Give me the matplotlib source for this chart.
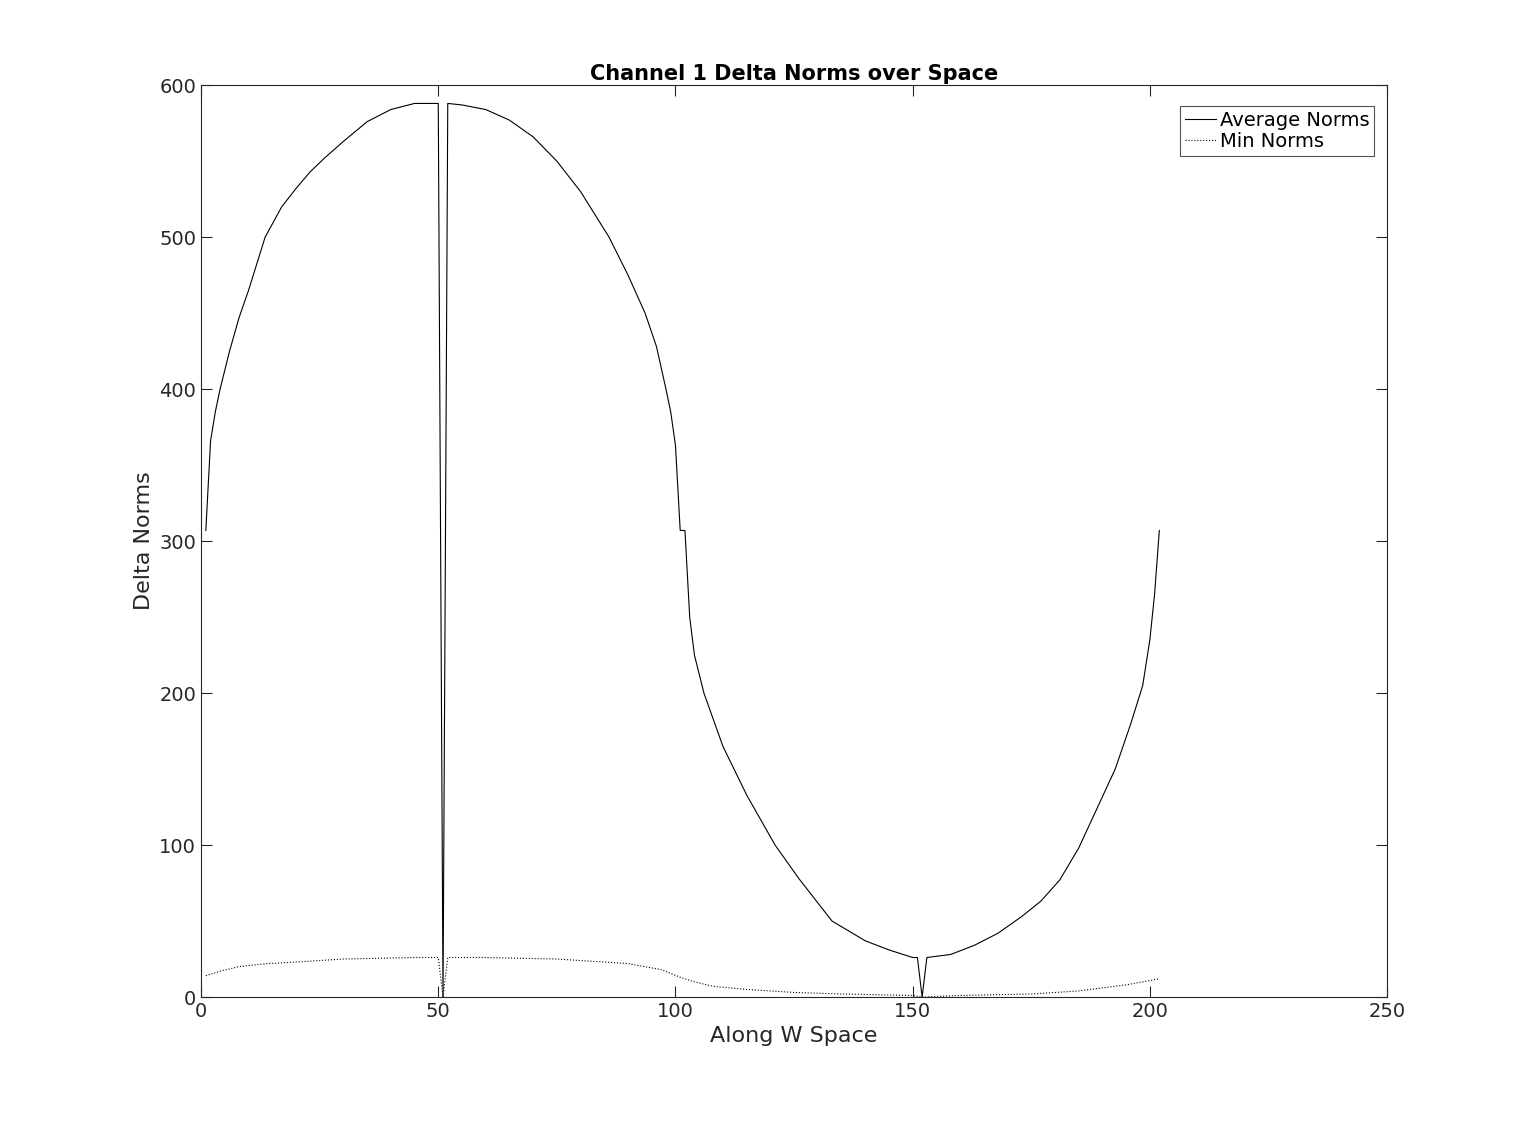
import numpy as np
import matplotlib.pyplot as plt

# Average norms
avg_x = [1, 2, 3, 4, 6, 8, 10, 13.5, 17, 20, 23, 26, 30, 35, 40, 45, 49, 50, 51, 52, 55, 60,
         65, 70, 75, 80, 86, 90, 93.6, 96, 98, 99, 100, 101, 102, 103, 104, 106, 110, 115,
         121, 126, 133, 140, 145, 150, 151, 152, 153, 158, 163, 168, 173, 177, 181, 185, 189,
         192.7, 196, 198.5, 200, 201, 202]
avg_y = [307, 366, 385, 400, 425, 447, 465, 500, 520, 532, 543, 552, 563, 576, 584, 588, 588,
         588, 0, 588, 587, 584, 577, 566, 550, 530, 500, 475, 450, 428, 400, 385, 363, 307,
         307, 250, 225, 200, 165, 133, 100, 78, 50, 37, 31, 26, 26, 0, 26, 28, 34, 42, 53, 63,
         77, 98, 125, 150, 180, 205, 235, 265, 307]

# Min norms
min_x = [1, 4, 8, 14, 20, 30, 45, 50, 51, 52, 60, 75, 90, 97, 101, 104, 108, 115, 125, 135,
         150, 152, 160, 175, 185, 195, 202]
min_y = [14, 17, 20, 22, 23, 25, 26, 26, 0, 26, 26, 25, 22, 18, 13, 10, 7, 5, 3, 2, 1, 0, 1,
         2, 4, 8, 12]

fig = plt.figure(figsize=(15.35, 11.21), dpi=100)
ax = fig.add_axes([0.131, 0.1106, 0.7726, 0.8134])

ax.plot(avg_x, avg_y, color='black', linewidth=0.8, label='Average Norms')
ax.plot(min_x, min_y, color='black', linewidth=0.8, linestyle=':', label='Min Norms')

ax.set_xlim(0, 250)
ax.set_ylim(0, 600)
ax.set_xticks([0, 50, 100, 150, 200, 250])
ax.set_yticks([0, 100, 200, 300, 400, 500, 600])
ax.tick_params(direction='in', top=True, right=True, labelsize=14, colors='#262626', length=8)
for s in ax.spines.values():
    s.set_color('#262626')
    s.set_linewidth(0.8)

ax.set_title('Channel 1 Delta Norms over Space', fontsize=15, fontweight='bold', pad=4)
ax.set_xlabel('Along W Space', fontsize=16, color='#262626')
ax.set_ylabel('Delta Norms', fontsize=16, color='#262626')

leg = ax.legend(loc='upper right', fontsize=14, frameon=True, fancybox=False,
                handlelength=1.6, handletextpad=0.2, borderpad=0.25, labelspacing=0.1,
                bbox_to_anchor=(0.9975, 0.988))
leg.get_frame().set_edgecolor('#262626')
leg.get_frame().set_linewidth(0.8)

fig.savefig('out.png', dpi=100)
